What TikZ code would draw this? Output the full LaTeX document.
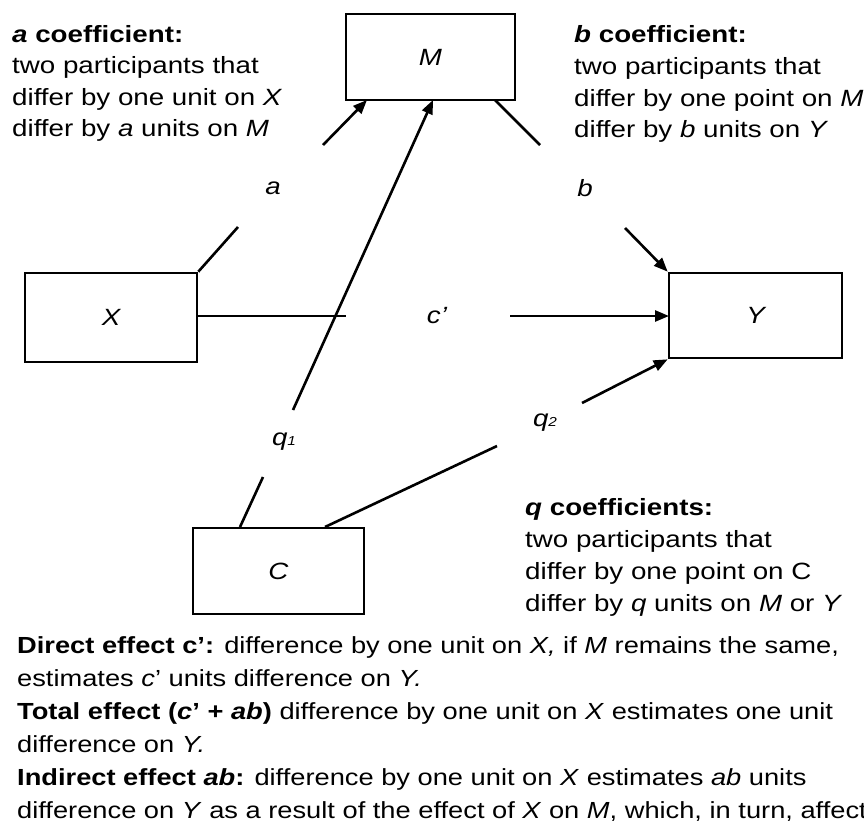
\documentclass[tikz,border=0pt]{standalone}
\usepackage{fontspec}
\setmainfont{Liberation Sans}[FakeStretch=1.18]
\newfontfamily\bottomfont{Liberation Sans}[FakeStretch=1.17]
\usetikzlibrary{arrows.meta}
\begin{document}
\begin{tikzpicture}[x=1pt,y=-1pt,
  box/.style={draw, line width=2.6pt, inner sep=0, font=\fontsize{23.5}{28}\selectfont\itshape},
  ln/.style={line width=2.6pt},
  arr/.style={ln, -{Triangle[length=14pt,width=11pt]}},
  txt/.style={anchor=base west, align=left, inner sep=0, font=\fontsize{23.5}{31.5}\selectfont},
  qtxt/.style={anchor=base west, align=left, inner sep=0, font=\fontsize{23.5}{32}\selectfont},
  btxt/.style={anchor=base west, align=left, inner sep=0, font=\bottomfont\fontsize{23.3}{33}\selectfont},
  lab/.style={inner sep=0, font=\fontsize{23.5}{28}\selectfont\itshape}]
\useasboundingbox (0,0) rectangle (864,824);
% boxes
\node[box, minimum width=169pt, minimum height=86pt] (nM) at (430.5,57) {M};
\node[box, minimum width=172pt, minimum height=89pt] (nX) at (111,317.5) {X};
\node[box, minimum width=173pt, minimum height=85pt] (nY) at (755.5,315.5) {Y};
\node[box, minimum width=171pt, minimum height=86pt] (nC) at (278.5,571) {C};
% labels
\node[lab] (la) at (273,188) {a};
\node[lab] (lb) at (585,188) {b};
\node[lab] (lc) at (437,316) {c’};
\node[lab] (lq1) at (284,442) {q{\fontsize{13}{13}\selectfont 1}};
\node[lab] (lq2) at (545,423) {q{\fontsize{13}{13}\selectfont 2}};
% free ends
\coordinate (a1) at (238,227);
\coordinate (a2) at (323,145);
\coordinate (Ma) at (367,100);
\coordinate (Mb) at (495,100);
\coordinate (b1) at (540,145);
\coordinate (b2) at (625,228);
\coordinate (c1) at (346,316);
\coordinate (c2) at (510,316);
\coordinate (Xc) at (197,316);
\coordinate (Yc) at (669,316);
\coordinate (Cq1) at (240,527);
\coordinate (q11) at (263,477);
\coordinate (q12) at (293,410);
\coordinate (Mq) at (433,100);
\coordinate (Cq2) at (325,527);
\coordinate (q21) at (497,446);
\coordinate (q22) at (582,403);
% connectors
\draw[ln] (nX.north east) -- (a1);
\draw[arr] (a2) -- (Ma);
\draw[ln] (Mb) -- (b1);
\draw[arr] (b2) -- (nY.north west);
\draw[ln] (Xc) -- (c1);
\draw[arr] (c2) -- (Yc);
\draw[ln] (Cq1) -- (q11);
\draw[arr] (q12) -- (Mq);
\draw[ln] (Cq2) -- (q21);
\draw[arr] (q22) -- (nY.south west);
% text blocks (anchored at the baseline of the last line)
\node[txt] (ta) at (12,136.5) {\textbf{\textit{a} coefficient:}\\two participants that\\differ by one unit on \textit{X}\\differ by \textit{a} units on \textit{M}};
\node[txt] (tb) at (574,137.5) {\textbf{\textit{b} coefficient:}\\two participants that\\differ by one point on \textit{M}\\differ by \textit{b} units on \textit{Y}};
\node[qtxt] (tq) at (525,611) {\textbf{\textit{q} coefficients:}\\two participants that\\differ by one point on C\\differ by \textit{q} units on \textit{M} or \textit{Y}};
\node[btxt] (tbot) at (17,818) {\textbf{Direct effect c’:} difference by one unit on \textit{X,} if \textit{M} remains the same,\\estimates \textit{c}’ units difference on \textit{Y.}\\\textbf{Total effect (\textit{c}’ + \textit{ab})} difference by one unit on \textit{X} estimates one unit\\difference on \textit{Y.}\\\textbf{Indirect effect \textit{ab}:} difference by one unit on \textit{X} estimates \textit{ab} units\\difference on \textit{Y} as a result of the effect of \textit{X} on \textit{M}, which, in turn, affects \textit{Y}.};
\end{tikzpicture}
\end{document}
